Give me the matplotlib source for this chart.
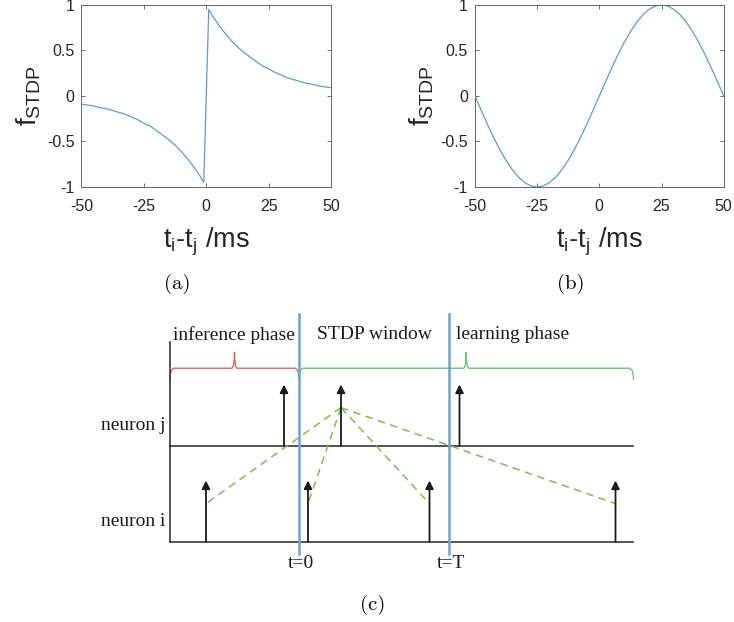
import matplotlib
matplotlib.use("Agg")
import matplotlib.pyplot as plt
from matplotlib.path import Path
from matplotlib.patches import PathPatch

plt.rcParams["axes.unicode_minus"] = False
plt.rcParams["mathtext.fontset"] = "custom"
plt.rcParams["mathtext.rm"] = "Liberation Sans"
plt.rcParams["mathtext.it"] = "Liberation Sans"

# (a) exponential STDP window
t_exp = [-50, -47.5, -45, -42.5, -40, -37.5, -35, -32.5, -30, -27.5, -25, -22.5,
         -20, -17.5, -15, -12.5, -10, -7.5, -5, -2.5, -1,
         1, 2.5, 5, 7.5, 10, 12.5, 15, 17.5, 20, 22.5, 25, 27.5, 30, 32.5, 35,
         37.5, 40, 42.5, 45, 47.5, 50]
f_exp = [-0.09, -0.10, -0.11, -0.13, -0.14, -0.16, -0.18, -0.20, -0.23, -0.26, -0.30, -0.33,
         -0.38, -0.43, -0.48, -0.54, -0.61, -0.69, -0.78, -0.88, -0.95,
         0.95, 0.88, 0.78, 0.69, 0.61, 0.54, 0.48, 0.43, 0.38, 0.33, 0.30, 0.26, 0.23, 0.20, 0.18,
         0.16, 0.14, 0.13, 0.11, 0.10, 0.09]

# (b) sine STDP window
t_sin = [-50, -47.5, -45, -42.5, -40, -37.5, -35, -32.5, -30, -27.5, -25, -22.5, -20,
         -17.5, -15, -12.5, -10, -7.5, -5, -2.5, 0, 2.5, 5, 7.5, 10, 12.5, 15, 17.5,
         20, 22.5, 25, 27.5, 30, 32.5, 35, 37.5, 40, 42.5, 45, 47.5, 50]
f_sin = [0, -0.156, -0.309, -0.454, -0.588, -0.707, -0.809, -0.891, -0.951, -0.988, -1.0,
         -0.988, -0.951, -0.891, -0.809, -0.707, -0.588, -0.454, -0.309, -0.156, 0,
         0.156, 0.309, 0.454, 0.588, 0.707, 0.809, 0.891, 0.951, 0.988, 1.0,
         0.988, 0.951, 0.891, 0.809, 0.707, 0.588, 0.454, 0.309, 0.156, 0]

x_ticks = [-50, -25, 0, 25, 50]
y_ticks = [-1, -0.5, 0, 0.5, 1]
y_ticklabels = ["-1", "-0.5", "0", "0.5", "1"]

# (c) spike timing diagram (time units, t=0 .. T=100)
spikes_j = [-10, 28, 107]
spikes_i = [-62, 6, 87, 211]
window_edges = [0, 100]
window_labels = ["t=0", "t=T"]
phase_names = ["inference phase", "STDP window", "learning phase"]
phase_x = [-84, 12, 105]
brace_spans = [(-86, 0), (0, 223)]
brace_colors = ["#e06660", "#66c866"]
row_names = ["neuron j", "neuron i"]
row_levels = [1, 0]


def stdp_axes(rect, t, f):
    ax = fig.add_axes(rect)
    ax.plot(t, f, color="#5b9bd5", lw=0.9)
    ax.set_xlim(-50, 50)
    ax.set_ylim(-1, 1)
    ax.set_xticks(x_ticks)
    ax.set_yticks(y_ticks)
    ax.set_yticklabels(y_ticklabels)
    ax.tick_params(direction="in", top=True, right=True, length=3, width=0.6,
                   labelsize=11.5, colors="#555555", labelcolor="#262626")
    ax.tick_params(axis="x", pad=9)
    ax.tick_params(axis="y", pad=5)
    for s in ax.spines.values():
        s.set_color("#666666")
        s.set_linewidth(0.7)
    for lab in ax.get_xticklabels() + ax.get_yticklabels():
        lab.set_family("Liberation Sans")
    ax.set_xlabel("t$_\\mathrm{i}$-t$_\\mathrm{j}$ /ms", fontsize=19.5,
                  family="Liberation Sans", color="#262626", labelpad=8)
    ax.set_ylabel("f$_\\mathrm{STDP}$", fontsize=20, family="Liberation Sans",
                  color="#262626", labelpad=3)
    return ax


def brace(ax, x0, x1, y, color):
    mid = (x0 + x1) / 2
    e, d, tip, w = 3, 0.12, 0.17, 2
    verts = [(x0, y - d), (x0, y), (x0 + e, y), (mid - w, y), (mid, y), (mid, y + tip),
             (mid, y), (mid + w, y), (x1 - e, y), (x1, y), (x1, y - d)]
    codes = [Path.MOVETO, Path.CURVE3, Path.CURVE3, Path.LINETO, Path.CURVE3, Path.CURVE3,
             Path.CURVE3, Path.CURVE3, Path.LINETO, Path.CURVE3, Path.CURVE3]
    ax.add_patch(PathPatch(Path(verts, codes), fc="none", ec=color, lw=1.0))


fig = plt.figure(figsize=(7.34, 6.22), dpi=100)

stdp_axes([0.111, 0.6994, 0.340, 0.2926], t_exp, f_exp)
stdp_axes([0.647, 0.6994, 0.339, 0.2926], t_sin, f_sin)
fig.text(177 / 734, 1 - 284 / 622, "(a)", fontsize=15, family="cmr10", ha="center", va="center")
fig.text(571 / 734, 1 - 284 / 622, "(b)", fontsize=15, family="cmr10", ha="center", va="center")

# panel (c)
axc = fig.add_axes([0, 0, 1, 322 / 622])
axc.set_xlim(-199.33, 290.0)
axc.set_ylim(-0.8333, 2.5208)
axc.axis("off")

x_start, x_end = -86, 222.7
spike_h = 0.64
dash_y = 0.40
serif = "Liberation Serif"

axc.plot([x_start, x_start], [0, 2.083], color="#262626", lw=1.1)
for name, lvl in zip(row_names, row_levels):
    axc.plot([x_start, x_end], [lvl, lvl], color="#262626", lw=1.1)
    axc.text(x_start - 3.3, lvl + 0.21, name, fontsize=14, family=serif,
             ha="right", va="center", color="#1a1a1a")

for lvl, spikes in zip(row_levels, [spikes_j, spikes_i]):
    for s in spikes:
        axc.annotate("", xy=(s, lvl + spike_h), xytext=(s, lvl),
                     arrowprops=dict(arrowstyle="-|>", color="#1a1a1a", lw=1.3,
                                     mutation_scale=12, shrinkA=0, shrinkB=0))

for s in spikes_i:
    axc.plot([spikes_j[1], s], [1 + dash_y, dash_y], color="#7cc043", lw=1.1,
             ls=(0, (5, 3.5)))

for x, lab in zip(window_edges, window_labels):
    axc.plot([x, x], [-0.125, 2.375], color="#6aa3dc", lw=1.8)
    axc.text(x + 1, -0.22, lab, fontsize=14, family=serif, ha="center", va="center",
             color="#1a1a1a")

for (x0, x1), col in zip(brace_spans, brace_colors):
    brace(axc, x0, x1, 1.81, col)

for name, x in zip(phase_names, phase_x):
    axc.text(x, 2.16, name, fontsize=14, family=serif, ha="left", va="center",
             color="#1a1a1a")

axc.text(49.3, -0.656, "(c)", fontsize=15, family="cmr10", ha="center", va="center")

fig.savefig("out.png", dpi=100)
